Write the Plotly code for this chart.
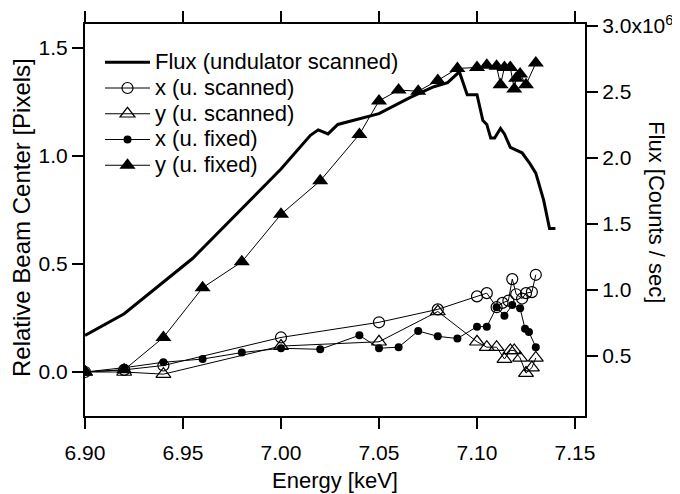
import plotly.graph_objects as go

# ---------------- data ----------------
flux_energy = [6.900, 6.920, 6.955, 7.000, 7.015, 7.019, 7.024, 7.029, 7.050, 7.066,
               7.078, 7.085, 7.091, 7.095, 7.100, 7.103, 7.105, 7.107, 7.109, 7.112,
               7.114, 7.117, 7.120, 7.123, 7.127, 7.130, 7.134, 7.137, 7.140]
flux_millions = [0.656, 0.82, 1.24, 1.916, 2.172, 2.213, 2.182, 2.254, 2.336, 2.459,
                 2.54, 2.571, 2.653, 2.479, 2.479, 2.284, 2.254, 2.151, 2.151, 2.223,
                 2.182, 2.08, 2.059, 2.039, 1.957, 1.885, 1.68, 1.465, 1.465]

xs_energy = [6.90, 6.92, 6.94, 7.00, 7.05, 7.08, 7.10, 7.105, 7.11, 7.113,
             7.116, 7.118, 7.12, 7.123, 7.125, 7.128, 7.13]
xs_values = [0.00, 0.01, 0.03, 0.16, 0.23, 0.29, 0.35, 0.365, 0.30, 0.32,
             0.33, 0.43, 0.36, 0.34, 0.365, 0.37, 0.45]

ys_energy = [6.90, 6.92, 6.94, 7.00, 7.05, 7.08, 7.10, 7.105, 7.11, 7.114,
             7.117, 7.119, 7.122, 7.125, 7.128, 7.13]
ys_values = [0.00, 0.00, -0.01, 0.12, 0.14, 0.28, 0.14, 0.115, 0.115, 0.06,
             0.10, 0.10, 0.065, -0.005, 0.02, 0.065]

xf_energy = [6.90, 6.92, 6.94, 6.96, 6.98, 7.00, 7.02, 7.04, 7.05, 7.06,
             7.07, 7.08, 7.09, 7.10, 7.105, 7.11, 7.114, 7.118, 7.122, 7.1245,
             7.1265, 7.13]
xf_values = [0.00, 0.02, 0.045, 0.06, 0.09, 0.11, 0.105, 0.17, 0.11, 0.115,
             0.19, 0.165, 0.155, 0.21, 0.21, 0.30, 0.26, 0.31, 0.295, 0.20,
             0.185, 0.115]

yf_energy = [6.90, 6.92, 6.94, 6.96, 6.98, 7.00, 7.02, 7.04, 7.05, 7.06,
             7.07, 7.08, 7.09, 7.10, 7.105, 7.11, 7.112, 7.114, 7.117, 7.119,
             7.12, 7.122, 7.125, 7.13]
yf_values = [0.00, 0.01, 0.16, 0.39, 0.51, 0.73, 0.885, 1.10, 1.255, 1.305,
             1.30, 1.35, 1.405, 1.41, 1.42, 1.415, 1.33, 1.41, 1.41, 1.31,
             1.36, 1.38, 1.33, 1.43]

x_ticks = [6.90, 6.95, 7.00, 7.05, 7.10, 7.15]
x_ticklabels = ["6.90", "6.95", "7.00", "7.05", "7.10", "7.15"]
y_ticks = [0.0, 0.5, 1.0, 1.5]
y_ticklabels = ["0.0", "0.5", "1.0", "1.5"]
y2_ticks = [0.5, 1.0, 1.5, 2.0, 2.5, 3.0]
y2_ticklabels = ["0.5", "1.0", "1.5", "2.0", "2.5", "3.0x10<sup>6</sup>"]

FONT = "Liberation Sans, Arial, sans-serif"
FS = 21


def leg(label):
    return '<span style="font-size:22px">' + label + '</span>'


fig = go.Figure()
fig.add_trace(go.Scatter(x=flux_energy, y=flux_millions, yaxis="y2", mode="lines",
                         name=leg("Flux (undulator scanned)"),
                         line=dict(color="black", width=3)))
fig.add_trace(go.Scatter(x=xs_energy, y=xs_values, mode="lines+markers",
                         name=leg("x (u. scanned)"),
                         line=dict(color="black", width=1),
                         marker=dict(symbol="circle-open", size=11, color="black",
                                     line=dict(width=1.2))))
fig.add_trace(go.Scatter(x=ys_energy, y=ys_values, mode="lines+markers",
                         name=leg("y (u. scanned)"),
                         line=dict(color="black", width=1),
                         marker=dict(symbol="triangle-up-open", size=13, color="black",
                                     line=dict(width=1.2))))
fig.add_trace(go.Scatter(x=xf_energy, y=xf_values, mode="lines+markers",
                         name=leg("x (u. fixed)"),
                         line=dict(color="black", width=1),
                         marker=dict(symbol="circle", size=8, color="black")))
fig.add_trace(go.Scatter(x=yf_energy, y=yf_values, mode="lines+markers",
                         name=leg("y (u. fixed)"),
                         line=dict(color="black", width=1),
                         marker=dict(symbol="triangle-up", size=14, color="black")))

axis_common = dict(showline=True, linecolor="black", linewidth=2,
                   ticks="outside", ticklen=11, tickwidth=2, tickcolor="black",
                   showgrid=False, zeroline=False, automargin=False,
                   tickfont=dict(family=FONT, size=FS, color="black"))

# the page body has an 8 px margin, so the figure is 8 px smaller on each side
fig.update_layout(
    template="none",
    width=672, height=486,
    margin=dict(l=77, r=95, t=16, b=78, autoexpand=False),
    paper_bgcolor="white", plot_bgcolor="white",
    font=dict(family=FONT, size=FS, color="black"),
    showlegend=True,
    legend=dict(x=0.03, y=0.948, xanchor="left", yanchor="top",
                bgcolor="rgba(0,0,0,0)", borderwidth=0,
                font=dict(family=FONT, size=17.5, color="black"),
                itemwidth=45, tracegroupgap=0),
    xaxis=dict(range=[6.90, 7.1551], tickvals=x_ticks, ticktext=x_ticklabels,
               mirror="ticks", ticklabelstandoff=6, **axis_common),
    yaxis=dict(range=[-0.2037, 1.611], tickvals=y_ticks, ticktext=y_ticklabels,
               mirror=True, **axis_common),
    yaxis2=dict(range=[0.045, 3.015], tickvals=y2_ticks, ticktext=y2_ticklabels,
                overlaying="y", side="right", **axis_common),
    annotations=[
        dict(text="Energy [keV]", xref="paper", yref="paper", x=0.5, y=0,
             xanchor="center", yanchor="middle", yshift=-64, showarrow=False,
             font=dict(family=FONT, size=22, color="black")),
        dict(text="Relative Beam Center [Pixels]", xref="paper", yref="paper",
             x=0, y=0.505, xanchor="center", yanchor="middle", xshift=-64,
             textangle=-90, showarrow=False,
             font=dict(family=FONT, size=24, color="black")),
        dict(text="Flux [Counts / sec]", xref="paper", yref="paper",
             x=1, y=0.52, xanchor="center", yanchor="middle", xshift=72,
             textangle=90, showarrow=False,
             font=dict(family=FONT, size=22, color="black")),
    ],
)

fig.write_html("out.html")
